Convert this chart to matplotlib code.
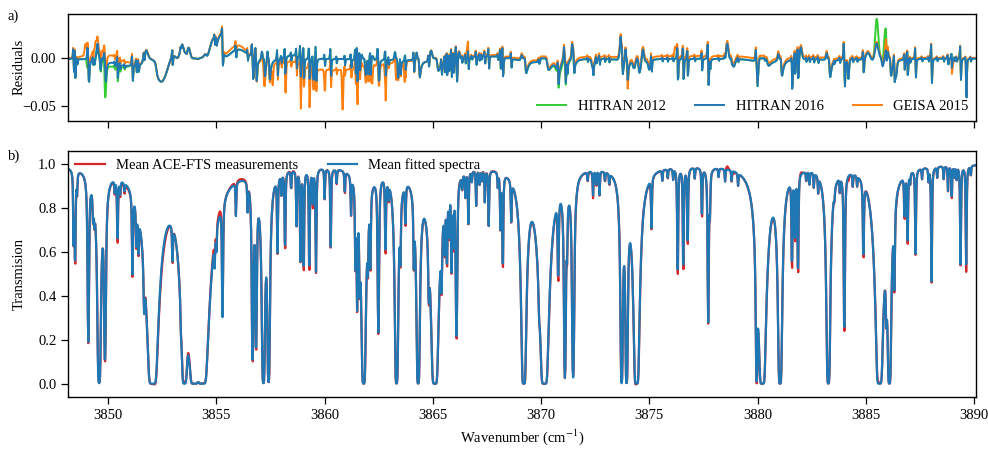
import numpy as np
import matplotlib
matplotlib.use("Agg")
import matplotlib.pyplot as plt

plt.rcParams["font.family"] = ["Liberation Serif", "DejaVu Serif"]
plt.rcParams["mathtext.fontset"] = "stix"
plt.rcParams["font.size"] = 10.5

# absorption lines read off panel b): centre (cm-1), optical depth, half width (cm-1)
line_pos = [
    3848.40, 3848.47, 3848.56, 3849.08, 3849.30, 3849.36, 3849.58, 3849.85, 3850.30, 3850.43,
    3850.55, 3850.75, 3851.12, 3851.30, 3851.40, 3851.66, 3852.05, 3852.97, 3853.36, 3853.52,
    3853.97, 3854.35, 3854.92, 3855.00, 3855.28, 3855.90, 3856.44, 3856.67, 3856.83, 3857.17,
    3857.41, 3857.82, 3858.00, 3858.17, 3858.45, 3858.70, 3858.88, 3859.03, 3859.29, 3859.45,
    3859.60, 3860.00, 3860.28, 3860.55, 3860.93, 3861.22, 3861.42, 3861.50, 3861.62, 3861.80,
    3862.00, 3862.11, 3862.48, 3862.81, 3862.95, 3863.32, 3863.50, 3863.73, 3864.12, 3864.32,
    3864.81, 3865.09, 3865.40, 3865.55, 3865.65, 3865.75, 3865.86, 3865.95, 3866.09, 3866.50,
    3866.64, 3867.00, 3867.40, 3867.58, 3868.12, 3868.23, 3868.62, 3869.20, 3869.91, 3870.15,
    3870.79, 3871.10, 3871.20, 3871.48, 3872.40, 3872.70, 3873.72, 3873.95, 3874.41, 3875.10,
    3875.60, 3876.31, 3876.57, 3876.77, 3877.10, 3877.43, 3877.72, 3877.80, 3878.20, 3879.96,
    3880.22, 3881.04, 3881.59, 3881.73, 3881.87, 3882.40, 3882.80, 3883.27, 3884.01, 3884.89,
    3885.63, 3885.95, 3886.09, 3886.32, 3886.79, 3886.93, 3887.30, 3888.04, 3888.80, 3888.97,
    3889.38, 3889.64,
    # weak lines on the continuum
    3866.35, 3866.80, 3867.15, 3867.25, 3868.00, 3872.15, 3872.55, 3872.95, 3873.15, 3875.85,
    3876.10, 3878.50, 3878.80, 3879.10, 3882.25, 3882.60, 3883.55, 3883.80, 3884.40, 3884.60,
    3887.05, 3887.60, 3887.90, 3888.30, 3888.60, 3889.10, 3889.20, 3889.85,
]
line_tau = [
    0.40, 0.62, 0.10, 1.60, 0.15, 0.12, 6.00, 2.20, 0.06, 0.40,
    0.08, 0.05, 0.55, 0.25, 0.25, 0.50, 14.0, 0.30, 0.25, 10.0,
    15.0, 15.0, 0.20, 0.15, 1.00, 0.18, 0.15, 2.30, 1.80, 6.00,
    5.00, 0.45, 0.10, 0.50, 0.10, 0.30, 0.55, 0.70, 0.70, 0.20,
    0.65, 0.15, 0.45, 0.08, 0.12, 0.20, 0.50, 0.90, 0.50, 8.00,
    0.35, 0.55, 1.40, 0.50, 0.10, 7.00, 0.35, 0.25, 0.40, 7.00,
    0.50, 12.0, 0.45, 0.35, 0.50, 0.30, 0.55, 0.40, 1.60, 0.12,
    0.28, 0.18, 0.16, 0.30, 0.30, 0.65, 0.22, 10.0, 0.30, 13.0,
    0.60, 3.50, 0.30, 3.50, 0.12, 0.12, 6.00, 6.00, 10.0, 0.28,
    0.05, 0.75, 0.70, 0.48, 0.05, 0.28, 1.25, 0.20, 0.04, 4.00,
    12.0, 8.00, 0.60, 0.40, 0.70, 0.06, 0.08, 7.00, 1.50, 0.50,
    12.0, 0.60, 8.00, 0.60, 0.25, 0.45, 0.50, 0.75, 0.12, 0.18,
    0.60, 0.60,
    0.08, 0.05, 0.08, 0.06, 0.07, 0.05, 0.08, 0.05, 0.06, 0.05,
    0.05, 0.06, 0.05, 0.06, 0.05, 0.07, 0.05, 0.07, 0.06, 0.05,
    0.06, 0.05, 0.06, 0.05, 0.06, 0.05, 0.06, 0.05,
]
line_hw = [
    0.020, 0.022, 0.020, 0.030, 0.025, 0.020, 0.045, 0.035, 0.020, 0.022,
    0.020, 0.020, 0.025, 0.025, 0.025, 0.030, 0.100, 0.020, 0.020, 0.060,
    0.090, 0.100, 0.020, 0.020, 0.025, 0.020, 0.020, 0.030, 0.030, 0.040,
    0.035, 0.022, 0.020, 0.022, 0.020, 0.022, 0.022, 0.022, 0.022, 0.020,
    0.022, 0.020, 0.022, 0.020, 0.020, 0.022, 0.022, 0.022, 0.022, 0.050,
    0.022, 0.022, 0.030, 0.022, 0.020, 0.040, 0.022, 0.022, 0.022, 0.040,
    0.025, 0.070, 0.025, 0.022, 0.022, 0.022, 0.022, 0.022, 0.030, 0.020,
    0.022, 0.020, 0.020, 0.022, 0.022, 0.022, 0.022, 0.050, 0.030, 0.080,
    0.025, 0.030, 0.022, 0.035, 0.020, 0.020, 0.030, 0.030, 0.060, 0.022,
    0.020, 0.022, 0.022, 0.022, 0.020, 0.022, 0.025, 0.022, 0.020, 0.025,
    0.070, 0.045, 0.022, 0.022, 0.022, 0.020, 0.020, 0.045, 0.025, 0.025,
    0.070, 0.025, 0.040, 0.025, 0.022, 0.022, 0.022, 0.022, 0.020, 0.020,
    0.022, 0.022,
    0.020, 0.020, 0.020, 0.020, 0.020, 0.020, 0.020, 0.020, 0.020, 0.020,
    0.020, 0.020, 0.020, 0.020, 0.020, 0.020, 0.020, 0.020, 0.020, 0.020,
    0.020, 0.020, 0.020, 0.020, 0.020, 0.020, 0.020, 0.020,
]
continuum = 1.0

# slow residual structure of the HITRAN 2016 fit: centre, amplitude, width
res16_pos = [3849.5, 3849.7, 3850.8, 3851.74, 3852.5, 3853.0, 3853.4, 3853.7, 3854.85, 3855.2,
             3856.0, 3858.5, 3859.5, 3862.2, 3864.9, 3866.2, 3867.5, 3870.8, 3871.5, 3872.4,
             3873.7, 3874.3, 3874.7, 3875.0, 3878.6, 3878.9, 3880.0, 3880.4, 3881.6, 3882.0,
             3884.2, 3885.1, 3885.5, 3885.9, 3886.4, 3889.64]
res16_amp = [0.010, 0.012, -0.006, 0.014, -0.016, 0.008, 0.014, 0.016, 0.028, 0.020,
             0.011, 0.004, -0.020, 0.006, 0.010, 0.010, 0.003, -0.010, 0.012, -0.012,
             0.014, -0.012, 0.016, -0.010, 0.016, -0.008, -0.013, 0.012, -0.012, 0.013,
             -0.020, 0.008, 0.015, 0.010, -0.014, -0.030]
res16_wid = [0.05, 0.04, 0.50, 0.08, 0.20, 0.15, 0.10, 0.07, 0.20, 0.10,
             0.40, 0.30, 0.03, 0.05, 0.05, 0.04, 0.80, 0.10, 0.05, 0.05,
             0.06, 0.05, 0.05, 0.05, 0.05, 0.06, 0.04, 0.05, 0.04, 0.05,
             0.03, 0.10, 0.08, 0.08, 0.04, 0.02]

# HITRAN 2012 departures from HITRAN 2016
res12_pos = [3849.04, 3849.85, 3850.2, 3870.9, 3885.51, 3885.89]
res12_amp = [-0.020, -0.030, -0.004, -0.004, 0.026, 0.026]
res12_wid = [0.025, 0.025, 0.40, 0.20, 0.07, 0.06]

# GEISA 2015 departures from HITRAN 2016
geisa_pos = [3849.9, 3848.95, 3849.40, 3855.9, 3860.4, 3857.2, 3857.6, 3858.2, 3858.9, 3859.3,
             3860.0, 3860.83, 3861.5, 3862.2, 3862.8, 3863.3, 3863.7, 3877.0, 3866.6, 3874.0,
             3876.2, 3885.95, 3889.0]
geisa_amp = [0.008, 0.012, 0.012, 0.005, -0.012, -0.020, -0.020, -0.018, -0.025, -0.020,
             -0.020, -0.045, -0.020, -0.022, -0.030, -0.020, -0.025, 0.003, 0.010, -0.012,
             0.010, 0.010, -0.008]
geisa_wid = [0.80, 0.04, 0.04, 0.50, 1.80, 0.025, 0.025, 0.025, 0.025, 0.025,
             0.025, 0.025, 0.025, 0.025, 0.025, 0.025, 0.025, 8.0, 0.04, 0.04,
             0.04, 0.05, 0.05]


def transmission(x, pos, tau, hw, eta=0.7):
    d = (x[:, None] - np.asarray(pos)[None, :]) / np.asarray(hw)[None, :]
    prof = (1 - eta) * np.exp(-np.log(2) * d ** 2) + eta / (1 + d ** 2)
    return continuum * np.exp(-(prof * np.asarray(tau)).sum(axis=1))


def bumps(x, pos, amp, wid):
    d = (x[:, None] - np.asarray(pos)[None, :]) / np.asarray(wid)[None, :]
    return (np.asarray(amp) * np.exp(-0.5 * d ** 2)).sum(axis=1)


wn = np.arange(3848.0, 3890.4, 0.02)
fitted = transmission(wn, line_pos, line_tau, line_hw)
lines_meas = transmission(wn, np.asarray(line_pos) + 0.0015, np.asarray(line_tau) * 1.02, line_hw)
res16 = lines_meas - fitted + bumps(wn, res16_pos, res16_amp, res16_wid)
measured = fitted + res16
res12 = res16 + bumps(wn, res12_pos, res12_amp, res12_wid)
geisa = res16 + bumps(wn, geisa_pos, geisa_amp, geisa_wid)

fig = plt.figure(figsize=(9.88, 4.5), dpi=100)
ax1 = fig.add_axes([0.069, 0.732, 0.919, 0.238])
ax2 = fig.add_axes([0.069, 0.118, 0.919, 0.547], sharex=ax1)

l12, = ax1.plot(wn, res12, color="#33cc33", lw=1.4)
lge, = ax1.plot(wn, geisa, color="#ff7f0e", lw=1.4)
l16, = ax1.plot(wn, res16, color="#1f77b4", lw=1.4)
ax1.legend([l12, l16, lge], ["HITRAN 2012", "HITRAN 2016", "GEISA 2015"],
           loc="lower right", ncol=3, frameon=False, borderaxespad=0.1)
ax1.set_ylabel("Residuals")
ax1.set_ylim(-0.065, 0.047)
ax1.set_yticks([-0.05, 0.0])
ax1.tick_params(labelbottom=False)

ax2.plot(wn, measured, color="#d62728", lw=1.6, label="Mean ACE-FTS measurements")
ax2.plot(wn, fitted, color="#1f77b4", lw=1.6, label="Mean fitted spectra")
ax2.legend(loc="upper left", ncol=2, frameon=False, borderaxespad=0.1)
ax2.set_ylabel("Transmision")
ax2.set_xlabel("Wavenumber (cm$^{-1}$)")
ax2.set_ylim(-0.06, 1.06)
ax2.set_xlim(3848.15, 3890.1)
ax2.set_xticks(np.arange(3850, 3891, 5))

for ax in (ax1, ax2):
    ax.yaxis.set_label_coords(-0.047, 0.5)
    ax.tick_params(direction="out", length=5, width=0.9)
    for s in ax.spines.values():
        s.set_linewidth(1.0)

fig.text(0.008, 0.955, "a)")
fig.text(0.008, 0.645, "b)")

fig.savefig("out.png", dpi=100)
